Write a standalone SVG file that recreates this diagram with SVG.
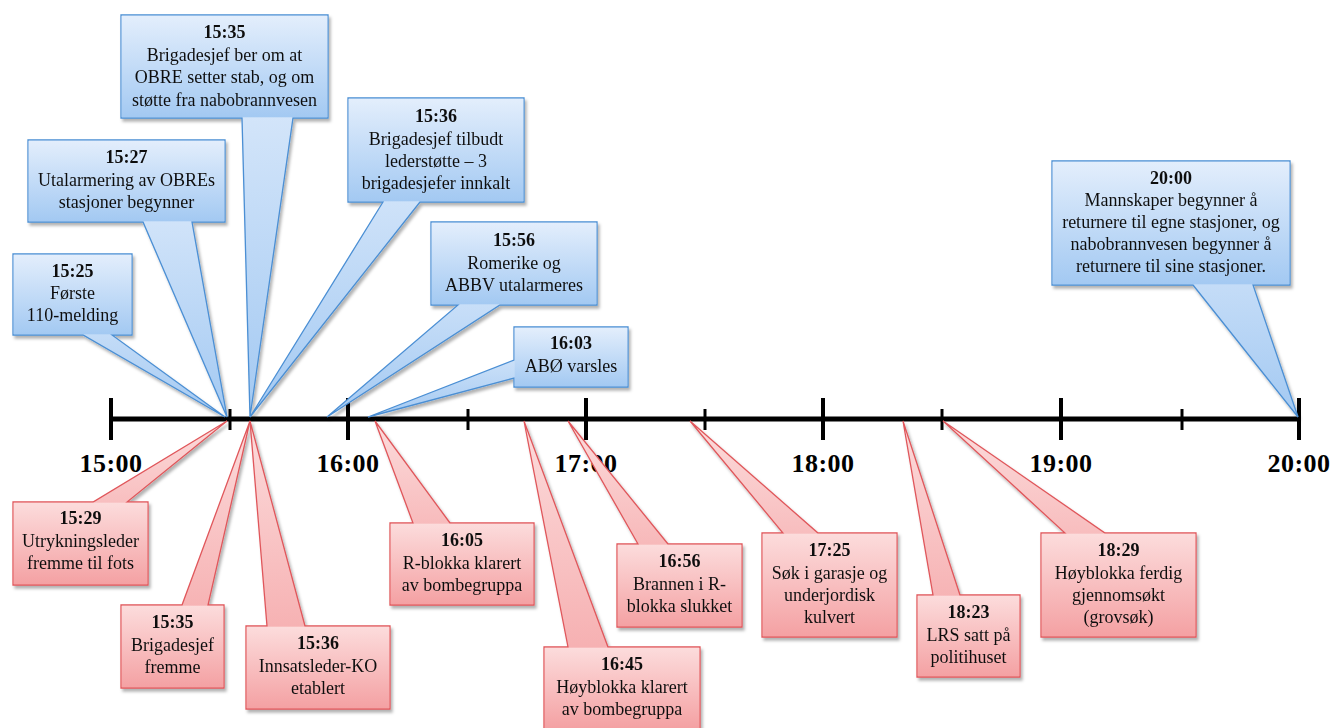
<svg xmlns="http://www.w3.org/2000/svg" width="1336" height="728" viewBox="0 0 1336 728">
<defs>
<linearGradient id="gb" x1="0" y1="0" x2="0" y2="1"><stop offset="0" stop-color="#e3eefc"/><stop offset="1" stop-color="#a3c9f2"/></linearGradient>
<linearGradient id="gr" x1="0" y1="0" x2="0" y2="1"><stop offset="0" stop-color="#fcdcdc"/><stop offset="1" stop-color="#f4a1a3"/></linearGradient>
<filter id="sh" x="-10%" y="-10%" width="130%" height="130%"><feDropShadow dx="2" dy="3" stdDeviation="1.8" flood-color="#000" flood-opacity="0.3"/></filter>
<style>
.b path{fill:url(#gb);stroke:#4b8fd4;stroke-width:1.3;stroke-linejoin:miter}
.b rect{fill:url(#gb)}
.r path{fill:url(#gr);stroke:#e0575b;stroke-width:1.3;stroke-linejoin:miter}
.r rect{fill:url(#gr)}
.c{filter:url(#sh)}
text{font-family:"Liberation Serif","Times New Roman",serif;font-size:18px;text-anchor:middle;fill:#111}
.h{font-weight:bold}
.ax{font-size:26px;font-weight:bold;letter-spacing:0.5px;fill:#000}
.axl{stroke:#000;stroke-width:5}
.mj{stroke:#000;stroke-width:4}
.mn{stroke:#000;stroke-width:3}
</style>
</defs>
<g id="axis">
<line class="axl" x1="111" y1="419" x2="1299" y2="419"/>
<line class="mj" x1="111" y1="398" x2="111" y2="440"/>
<line class="mj" x1="348" y1="398" x2="348" y2="440"/>
<line class="mj" x1="586" y1="398" x2="586" y2="440"/>
<line class="mj" x1="823" y1="398" x2="823" y2="440"/>
<line class="mj" x1="1061" y1="398" x2="1061" y2="440"/>
<line class="mj" x1="1299" y1="398" x2="1299" y2="440"/>
<line class="mn" x1="230" y1="409" x2="230" y2="430"/>
<line class="mn" x1="468" y1="409" x2="468" y2="430"/>
<line class="mn" x1="705" y1="409" x2="705" y2="430"/>
<line class="mn" x1="942" y1="409" x2="942" y2="430"/>
<line class="mn" x1="1182" y1="409" x2="1182" y2="430"/>
<text class="ax" x="111" y="472">15:00</text>
<text class="ax" x="348" y="472">16:00</text>
<text class="ax" x="586" y="472">17:00</text>
<text class="ax" x="823" y="472">18:00</text>
<text class="ax" x="1061" y="472">19:00</text>
<text class="ax" x="1299" y="472">20:00</text>
</g>
<g id="connectors">
<g id="c1525" class="b c"><path d="M13,254 H132 V335 H112 L225,417 L83,335 H13 Z"/><rect x="13.7" y="254.7" width="117.6" height="79.6"/>
<text class="h" x="72.5" y="277">15:25</text><text x="72.5" y="299">Første</text><text x="72.5" y="321">110-melding</text></g>
<g id="c1527" class="b c"><path d="M28,140 H225 V222 H192 L227,417 L143,222 H28 Z"/><rect x="28.7" y="140.7" width="195.6" height="80.6"/>
<text class="h" x="126.5" y="163">15:27</text><text x="126.5" y="186">Utalarmering av OBREs</text><text x="126.5" y="208">stasjoner begynner</text></g>
<g id="c1535b" class="b c"><path d="M121,15 H328 V118 H293 L250,417 L242,118 H121 Z"/><rect x="121.7" y="15.7" width="205.6" height="101.6"/>
<text class="h" x="224.5" y="38">15:35</text><text x="224.5" y="61">Brigadesjef ber om at</text><text x="224.5" y="83">OBRE setter stab, og om</text><text x="224.5" y="106">støtte fra nabobrannvesen</text></g>
<g id="c1536b" class="b c"><path d="M348,98 H524 V202 H420 L250,417 L383,202 H348 Z"/><rect x="348.7" y="98.7" width="174.6" height="102.6"/>
<text class="h" x="436" y="122">15:36</text><text x="436" y="145">Brigadesjef tilbudt</text><text x="436" y="167">lederstøtte – 3</text><text x="436" y="189">brigadesjefer innkalt</text></g>
<g id="c1556" class="b c"><path d="M431,222 H597 V305 H500 L327,417 L458,305 H431 Z"/><rect x="431.7" y="222.7" width="164.6" height="81.6"/>
<text class="h" x="514" y="246">15:56</text><text x="514" y="269">Romerike og</text><text x="514" y="291">ABBV utalarmeres</text></g>
<g id="c1603" class="b c"><path d="M514,327 H628 V387 H514 V378 L368,417 L514,360 Z"/><rect x="514.7" y="327.7" width="112.6" height="58.6"/>
<text class="h" x="571" y="349">16:03</text><text x="571" y="372">ABØ varsles</text></g>
<g id="c2000" class="b c"><path d="M1052,161 H1290 V285 H1253 L1298,417 L1193,285 H1052 Z"/><rect x="1052.7" y="161.7" width="236.6" height="122.6"/>
<text class="h" x="1171" y="184">20:00</text><text x="1171" y="206">Mannskaper begynner å</text><text x="1171" y="228">returnere til egne stasjoner, og</text><text x="1171" y="250">nabobrannvesen begynner å</text><text x="1171" y="272">returnere til sine stasjoner.</text></g>

<g id="r1529" class="r c"><path d="M13,502 H93 L227,421 L127,502 H148 V585 H13 Z"/><rect x="13.7" y="502.7" width="133.6" height="81.6"/>
<text class="h" x="80.5" y="524">15:29</text><text x="80.5" y="547">Utrykningsleder</text><text x="80.5" y="569">fremme til fots</text></g>
<g id="r1535" class="r c"><path d="M121,605 H182 L250,421 L208,605 H224 V688 H121 Z"/><rect x="121.7" y="605.7" width="101.6" height="81.6"/>
<text class="h" x="172.5" y="628">15:35</text><text x="172.5" y="651">Brigadesjef</text><text x="172.5" y="673">fremme</text></g>
<g id="r1536" class="r c"><path d="M246,626 H267 L250,421 L305,626 H390 V709 H246 Z"/><rect x="246.7" y="626.7" width="142.6" height="81.6"/>
<text class="h" x="318" y="649">15:36</text><text x="318" y="672">Innsatsleder-KO</text><text x="318" y="694">etablert</text></g>
<g id="r1605" class="r c"><path d="M390,523 H413 L375,421 L450,523 H534 V605 H390 Z"/><rect x="390.7" y="523.7" width="142.6" height="80.6"/>
<text class="h" x="462" y="546">16:05</text><text x="462" y="569">R-blokka klarert</text><text x="462" y="591">av bombegruppa</text></g>
<g id="r1645" class="r c"><path d="M544,647 H568 L524,421 L608,647 H700 V729 H544 Z"/><rect x="544.7" y="647.7" width="154.6" height="80.6"/>
<text class="h" x="622" y="670">16:45</text><text x="622" y="693">Høyblokka klarert</text><text x="622" y="715">av bombegruppa</text></g>
<g id="r1656" class="r c"><path d="M617,544 H638 L568,421 L668,544 H742 V627 H617 Z"/><rect x="617.7" y="544.7" width="123.6" height="81.6"/>
<text class="h" x="679.5" y="567">16:56</text><text x="679.5" y="590">Brannen i R-</text><text x="679.5" y="612">blokka slukket</text></g>
<g id="r1725" class="r c"><path d="M762,533 H783 L690,421 L818,533 H897 V637 H762 Z"/><rect x="762.7" y="533.7" width="133.6" height="102.6"/>
<text class="h" x="829.5" y="556">17:25</text><text x="829.5" y="579">Søk i garasje og</text><text x="829.5" y="601">underjordisk</text><text x="829.5" y="623">kulvert</text></g>
<g id="r1823" class="r c"><path d="M917,595 H933 L903,421 L960,595 H1020 V677 H917 Z"/><rect x="917.7" y="595.7" width="101.6" height="80.6"/>
<text class="h" x="968.5" y="618">18:23</text><text x="968.5" y="641">LRS satt på</text><text x="968.5" y="663">politihuset</text></g>
<g id="r1829" class="r c"><path d="M1041,533 H1065 L943,421 L1105,533 H1196 V637 H1041 Z"/><rect x="1041.7" y="533.7" width="153.6" height="102.6"/>
<text class="h" x="1118.5" y="556">18:29</text><text x="1118.5" y="579">Høyblokka ferdig</text><text x="1118.5" y="601">gjennomsøkt</text><text x="1118.5" y="623">(grovsøk)</text></g>
</g>
</svg>
